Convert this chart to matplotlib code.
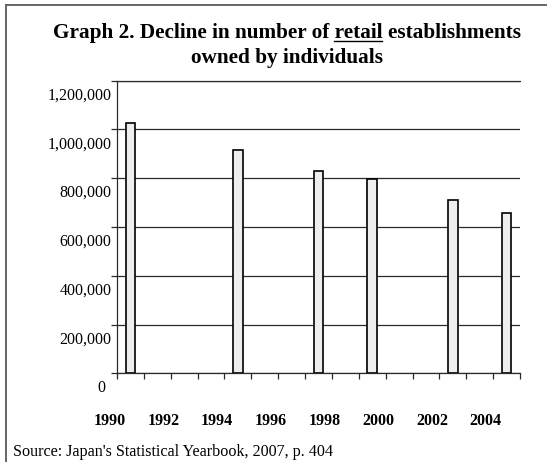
import matplotlib
matplotlib.use("Agg")
import matplotlib.pyplot as plt
from matplotlib.lines import Line2D
from matplotlib.transforms import offset_copy, blended_transform_factory

# Data -------------------------------------------------
first_year = 1990
n_years = 15
bar_years = [1990, 1994, 1997, 1999, 2002, 2004]
establishments = [1025000, 916000, 830000, 796000, 712000, 656000]
y_ticks = [0, 200000, 400000, 600000, 800000, 1000000, 1200000]
x_labels = [1990, 1992, 1994, 1996, 1998, 2000, 2002, 2004]

title_line1 = "Graph 2. Decline in number of retail establishments"
title_line2 = "owned by individuals"
underlined_word = "retail"
source_text = "Source: Japan's Statistical Yearbook, 2007, p. 404"

# Figure setup --------------------------------------
W, H = 547, 462
plt.rcParams["font.family"] = ["Liberation Serif", "DejaVu Serif"]
fig = plt.figure(figsize=(W / 100, H / 100), dpi=100)

ax_left, ax_right, ax_top, ax_bottom = 117, 520, 80.7, 373.3
ax = fig.add_axes([ax_left / W, 1 - ax_bottom / H,
                   (ax_right - ax_left) / W, (ax_bottom - ax_top) / H])
line_col = "#2a2a2a"

ax.bar([y - first_year + 0.5 for y in bar_years], establishments, width=0.36,
       color="#eeeeee", edgecolor="black", linewidth=1.2, zorder=3)

ax.set_xlim(0, n_years)
ax.set_ylim(0, y_ticks[-1])
ax.set_xticks(range(n_years + 1))
ax.set_yticks(y_ticks)
ax.set_xticklabels([])
ax.set_yticklabels([])
ax.tick_params(direction="out", length=4, width=0.9, color=line_col)
ax.yaxis.grid(True, color=line_col, linewidth=0.9)
ax.set_axisbelow(True)
for side in ["left", "bottom", "top"]:
    ax.spines[side].set_color(line_col)
    ax.spines[side].set_linewidth(0.9)
ax.spines["right"].set_visible(False)

# Tick labels sit offset from their ticks, as in the source image
ytrans = blended_transform_factory(ax.transAxes, ax.transData)
for v in y_ticks:
    dx = -11.7 if v == 0 else -5.3
    t = offset_copy(ytrans, fig=fig, x=dx * 0.72, y=-14.8 * 0.72, units="points")
    ax.text(0, v, f"{v:,}", transform=t, ha="right", va="center", fontsize=11.5)

xtrans = blended_transform_factory(ax.transData, ax.transAxes)
xt = offset_copy(xtrans, fig=fig, x=-20.7 * 0.72, y=0, units="points")
for yr in x_labels:
    ax.text(yr - first_year + 0.5, -47.7 / (ax_bottom - ax_top), str(yr),
            transform=xt, ha="center", va="center", fontsize=11.5, weight="bold")

# Title with underlined word -------------------------
title_size = 15.3
cx = 286.7 / W
t1 = fig.text(cx, 1 - 38 / H, title_line1, ha="center", va="baseline",
              fontsize=title_size, weight="bold")
fig.text(cx, 1 - 63 / H, title_line2, ha="center", va="baseline",
         fontsize=title_size, weight="bold")

renderer = fig.canvas.get_renderer()
full_box = t1.get_window_extent(renderer)
head = title_line1[: title_line1.index(underlined_word) + len(underlined_word)]
tmp = fig.text(0, 0, head, fontsize=title_size, weight="bold")
head_w = tmp.get_window_extent(renderer).width
tmp2 = fig.text(0, 0, underlined_word, fontsize=title_size, weight="bold")
word_w = tmp2.get_window_extent(renderer).width
tmp.remove()
tmp2.remove()
u_end = full_box.x0 + head_w
u_start = u_end - word_w
uy = 1 - 40.7 / H
fig.add_artist(Line2D([u_start / W, u_end / W], [uy, uy], color="black",
                      linewidth=1.0, transform=fig.transFigure))

fig.text(13.3 / W, 1 - 452 / H, source_text, ha="left", va="center", fontsize=11.6)

# Frame: only the top and left edges show in the crop
fcol = "#666666"
fig.add_artist(Line2D([5.7 / W, 5.7 / W], [0, 1 - 4.7 / H], color=fcol,
                      linewidth=1.4, transform=fig.transFigure))
fig.add_artist(Line2D([5.7 / W, 1], [1 - 4.7 / H, 1 - 4.7 / H], color=fcol,
                      linewidth=1.4, transform=fig.transFigure))

fig.savefig("out.png", dpi=100, facecolor="white")
